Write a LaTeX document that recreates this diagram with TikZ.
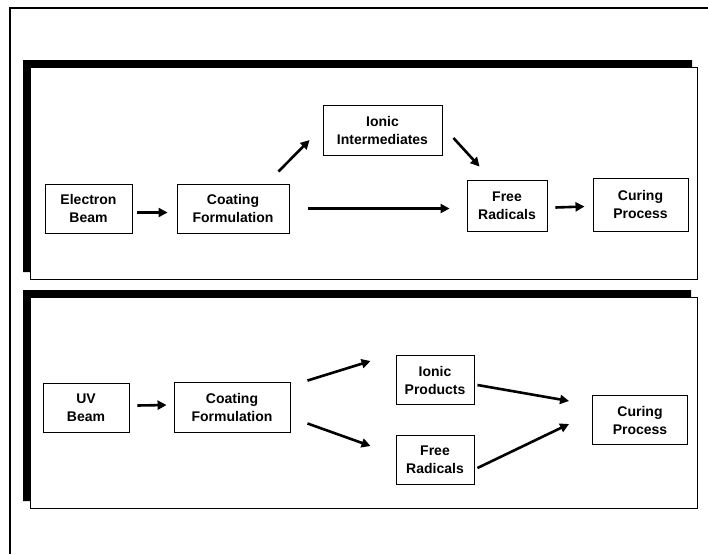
\documentclass[tikz,border=0pt]{standalone}
\usepackage{fontspec}
\setmainfont{Liberation Sans}
\usetikzlibrary{arrows.meta}
\begin{document}
\begin{tikzpicture}[x=1pt,y=-1pt,
  box/.style={draw, line width=0.9pt, minimum height=49pt, inner sep=0pt, align=center,
    font=\bfseries\fontsize{14}{18}\selectfont},
  arr/.style={line width=2.6pt, -{Triangle[length=9pt,width=9pt]}},
  panelline/.style={line width=1pt},
  frameline/.style={line width=1.2pt}]
\useasboundingbox (0,0) rectangle (708,554);
% outer frame
\draw[frameline] (10,554) -- (10,8) -- (708,8);
% top panel
\fill (23,60) -- (692,60) -- (692,67) -- (30,67) -- (30,272) -- (23,272) -- cycle;
\draw[panelline] (30,67) rectangle (697,279);
% bottom panel
\fill (23,290) -- (691,290) -- (691,297) -- (30,297) -- (30,501) -- (23,501) -- cycle;
\draw[panelline] (30,297) rectangle (697,508);

% top nodes
\node[box, minimum width=87pt] (eb) at (88.5,208.5) {Electron\\Beam};
\node[box, minimum width=112pt] (cf1) at (233,208.5) {Coating\\Formulation};
\node[box, minimum width=119pt, minimum height=50pt] (ii) at (382.5,130) {Ionic\\Intermediates};
\node[box, minimum width=80pt, minimum height=51pt] (fr1) at (507,205.5) {Free\\Radicals};
\node[box, minimum width=95pt, minimum height=53pt] (cp1) at (640.5,204.5) {Curing\\Process};

% top arrows
\draw[arr] ([shift={(5,4)}]eb.east) -- ([shift={(-9,4)}]cf1.west);
\draw[arr] ([shift={(-11,-12)}]cf1.north east) -- ([shift={(-13,10)}]ii.west);
\draw[arr] ([shift={(19,0)}]cf1.east) -- ([shift={(-17,3)}]fr1.west);
\draw[arr] ([shift={(11,8)}]ii.east) -- ([shift={(13,-13)}]fr1.north west);
\draw[arr] ([shift={(8,2)}]fr1.east) -- ([shift={(-8,2)}]cp1.west);

% bottom nodes
\node[box, minimum width=86pt] (uv) at (86,407.5) {UV\\Beam};
\node[box, minimum width=116pt, minimum height=50pt] (cf2) at (232,407) {Coating\\Formulation};
\node[box, minimum width=78pt] (ip) at (435,380) {Ionic\\Products};
\node[box, minimum width=78pt] (fr2) at (435,460) {Free\\Radicals};
\node[box, minimum width=95pt] (cp2) at (640,420) {Curing\\Process};

% bottom arrows
\draw[arr] ([shift={(8,-2)}]uv.east) -- ([shift={(-7,-2)}]cf2.west);
\draw[arr] ([shift={(17,-1)}]cf2.north east) -- ([shift={(-25,-19)}]ip.west);
\draw[arr] ([shift={(17,-9)}]cf2.south east) -- ([shift={(-25,-14)}]fr2.west);
\draw[arr] ([shift={(3,5)}]ip.east) -- ([shift={(-23,-19)}]cp2.west);
\draw[arr] ([shift={(3,8)}]fr2.east) -- ([shift={(-23,4)}]cp2.west);
\end{tikzpicture}
\end{document}
